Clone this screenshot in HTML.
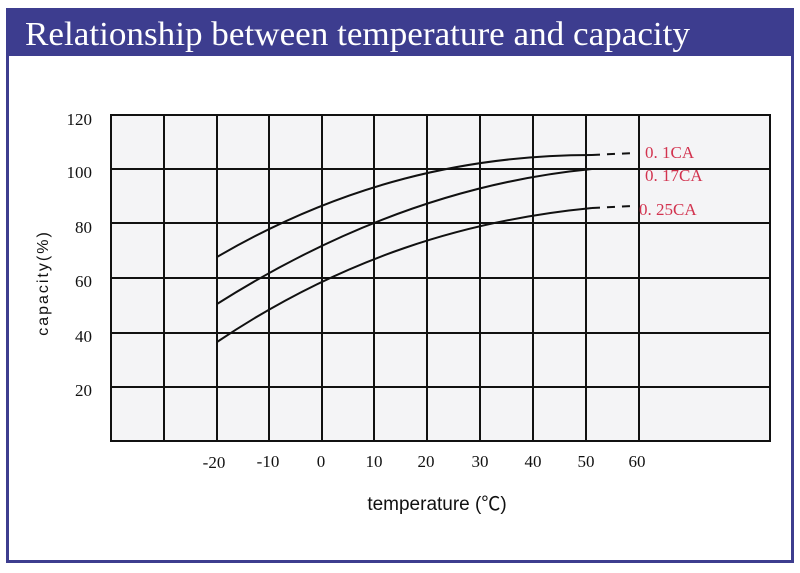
<!DOCTYPE html>
<html><head><meta charset="utf-8"><style>
body{margin:0;background:#fff;width:800px;height:568px;overflow:hidden}
</style></head><body>
<svg width="800" height="568" xmlns="http://www.w3.org/2000/svg" font-family="Liberation Serif, serif">
<rect x="0" y="0" width="800" height="568" fill="#fff"/>
<rect x="7.5" y="9.5" width="785" height="552" fill="#fff" stroke="#3d3d8f" stroke-width="3"/>
<rect x="6" y="8" width="788" height="48" fill="#3d3d8f"/>
<text x="25" y="45" fill="#fff" font-size="34" font-family="Liberation Serif, serif" textLength="665" lengthAdjust="spacingAndGlyphs">Relationship between temperature and capacity</text>
<rect x="111" y="115" width="659" height="326" fill="#f4f4f6" stroke="#111" stroke-width="2"/>
<g stroke="#111" stroke-width="2">
<line x1="164" y1="115" x2="164" y2="441"/><line x1="217" y1="115" x2="217" y2="441"/>
<line x1="269" y1="115" x2="269" y2="441"/><line x1="322" y1="115" x2="322" y2="441"/>
<line x1="374" y1="115" x2="374" y2="441"/><line x1="427" y1="115" x2="427" y2="441"/>
<line x1="480" y1="115" x2="480" y2="441"/><line x1="533" y1="115" x2="533" y2="441"/>
<line x1="586" y1="115" x2="586" y2="441"/><line x1="639" y1="115" x2="639" y2="441"/>
<line x1="111" y1="169" x2="770" y2="169"/><line x1="111" y1="223" x2="770" y2="223"/>
<line x1="111" y1="278" x2="770" y2="278"/><line x1="111" y1="333" x2="770" y2="333"/>
<line x1="111" y1="387" x2="770" y2="387"/>
</g>
<g fill="none" stroke="#111" stroke-width="2">
<path d="M217 257 C342 184 467 155 592 155"/>
<path d="M217 304 C342 225 467 181 592 169"/>
<path d="M217 342 C342 258 467 220 592 208"/>
<g stroke-dasharray="8,7"><line x1="592" y1="155" x2="635" y2="153"/><line x1="592" y1="208" x2="632" y2="206"/></g>
</g>
<g fill="#d2334f" font-size="17">
<text x="645" y="158">0. 1CA</text>
<text x="645" y="181">0. 17CA</text>
<text x="639" y="215">0. 25CA</text>
</g>
<g font-size="17" fill="#111" text-anchor="end">
<text x="92" y="125">120</text><text x="92" y="178">100</text><text x="92" y="233">80</text>
<text x="92" y="287">60</text><text x="92" y="342">40</text><text x="92" y="396">20</text>
</g>
<g font-size="17" fill="#111" text-anchor="middle">
<text x="214" y="468">-20</text><text x="268" y="467">-10</text><text x="321" y="467">0</text>
<text x="374" y="467">10</text><text x="426" y="467">20</text><text x="480" y="467">30</text>
<text x="533" y="467">40</text><text x="586" y="467">50</text><text x="637" y="467">60</text>
</g>
<text x="437" y="510" text-anchor="middle" font-size="19" font-family="Liberation Sans, 'Noto Sans CJK SC', sans-serif" fill="#111">temperature (℃)</text>
<text transform="translate(48 283) rotate(-90)" text-anchor="middle" font-size="16" font-family="Liberation Sans, 'Noto Sans CJK SC', sans-serif" fill="#111" letter-spacing="2">capacity(%)</text>
</svg>
</body></html>
